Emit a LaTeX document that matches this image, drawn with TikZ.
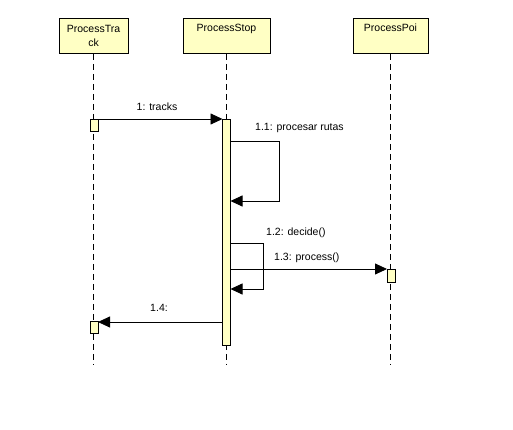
\documentclass[tikz,border=0pt]{standalone}
\usepackage{fontspec}
\setmainfont{Liberation Sans}
\usetikzlibrary{arrows.meta}
\definecolor{umlfill}{HTML}{FFFFC4}
\begin{document}
\begin{tikzpicture}[x=1pt,y=-1pt,
  lifebox/.style={draw,fill=umlfill,line width=0.8pt,minimum height=35pt,anchor=north,inner sep=1pt,font=\fontsize{10.5}{14}\selectfont,align=center},
  lifeline/.style={dashed,dash pattern=on 6pt off 4pt,line width=0.7pt},
  actbox/.style={draw,fill=umlfill,line width=0.7pt},
  msg/.style={line width=0.8pt,-{Triangle[length=12pt,width=11pt]}},
  lbl/.style={font=\fontsize{10.5}{12}\selectfont,inner sep=0pt}]
\useasboundingbox (0,0) rectangle (513,430);
\node[lifebox,minimum width=69pt,text width=65pt] (track) at (93.5,18) {ProcessTra\\ck};
\node[lifebox,minimum width=87pt,text width=83pt,text depth=17pt] (stop) at (226.5,18) {ProcessStop};
\node[lifebox,minimum width=75pt,text width=71pt,text depth=17pt] (poi) at (390.5,18) {ProcessPoi};
\coordinate (trackend) at (93.5,365);
\coordinate (stopend) at (226.5,365);
\coordinate (poiend) at (390.5,365);
\draw[lifeline] (track.south) -- (trackend);
\draw[lifeline] (stop.south) -- (stopend);
\draw[lifeline] (poi.south) -- (poiend);
% activations
\draw[actbox] (90,119) rectangle (98,131);
\node[inner sep=0pt,minimum width=8pt,minimum height=12pt] (act1) at (94,125) {};
\draw[actbox] (222.5,119) rectangle (230.5,345);
\node[inner sep=0pt,minimum width=8pt,minimum height=226pt] (act2) at (226.5,232) {};
\draw[actbox] (387,269) rectangle (395,282);
\node[inner sep=0pt,minimum width=8pt,minimum height=13pt] (act3) at (391,275.5) {};
\draw[actbox] (90,321) rectangle (98,333);
\node[inner sep=0pt,minimum width=8pt,minimum height=12pt] (act4) at (94,327) {};
% messages
\coordinate (m1s) at (98,119);
\coordinate (m1e) at (222.5,119);
\draw[msg] (m1s) -- (m1e);
\node[lbl] (l1) at (157,107) {1: tracks};
\coordinate (s1a) at (230.5,141);
\coordinate (s1b) at (279,141);
\coordinate (s1c) at (279,201);
\coordinate (s1d) at (230.5,201);
\draw[msg] (s1a) -- (s1b) -- (s1c) -- (s1d);
\node[lbl,anchor=west] (l11) at (255,128) {1.1: procesar rutas};
\coordinate (s2a) at (230.5,243);
\coordinate (s2b) at (263,243);
\coordinate (s2c) at (263,289);
\coordinate (s2d) at (230.5,289);
\draw[msg] (s2a) -- (s2b) -- (s2c) -- (s2d);
\node[lbl,anchor=west] (l12) at (266,233) {1.2: decide()};
\coordinate (m3s) at (230.5,269);
\coordinate (m3e) at (387,269);
\draw[msg] (m3s) -- (m3e);
\node[lbl,anchor=west] (l13) at (274,258) {1.3: process()};
\coordinate (m4s) at (222.5,322);
\coordinate (m4e) at (98,322);
\draw[msg] (m4s) -- (m4e);
\node[lbl] (l14) at (159,308) {1.4:};
\end{tikzpicture}
\end{document}
